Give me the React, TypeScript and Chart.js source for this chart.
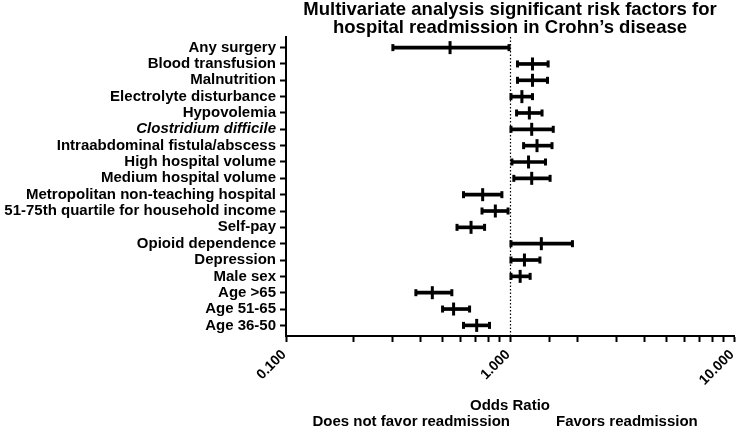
import React, { useEffect, useRef } from "react";
import { Chart, registerables } from "chart.js";

Chart.register(...registerables);

const CATEGORIES = [
  "Any surgery",
  "Blood transfusion",
  "Malnutrition",
  "Electrolyte disturbance",
  "Hypovolemia",
  "Clostridium difficile",
  "Intraabdominal fistula/abscess",
  "High hospital volume",
  "Medium hospital volume",
  "Metropolitan non-teaching hospital",
  "51-75th quartile for household income",
  "Self-pay",
  "Opioid dependence",
  "Depression",
  "Male sex",
  "Age >65",
  "Age 51-65",
  "Age 36-50",
];
const ITALIC_ROWS = ["Clostridium difficile"];

const ODDS_RATIO = [0.54, 1.26, 1.26, 1.13, 1.22, 1.25, 1.32, 1.21, 1.25, 0.755, 0.86, 0.67, 1.38, 1.16, 1.11, 0.45, 0.56, 0.71];
const CI_LOW = [0.30, 1.08, 1.08, 1.01, 1.07, 1.01, 1.15, 1.02, 1.04, 0.62, 0.75, 0.58, 1.01, 1.01, 1.01, 0.38, 0.50, 0.62];
const CI_HIGH = [0.99, 1.48, 1.47, 1.26, 1.39, 1.56, 1.54, 1.44, 1.51, 0.92, 0.98, 0.77, 1.90, 1.36, 1.23, 0.55, 0.66, 0.81];

const X_MIN = 0.1;
const X_MAX = 10;
const REFERENCE_LINE = 1;
const X_TICKS = [0.1, 1, 10];
const X_TICK_LABELS = ["0.100", "1.000", "10.000"];

const TITLE_LINES = [
  "Multivariate analysis significant risk factors for",
  "hospital readmission in Crohn\u2019s disease",
];
const X_TITLE = "Odds Ratio";
const LEFT_NOTE = "Does not favor readmission";
const RIGHT_NOTE = "Favors readmission";

const FONT = "'Liberation Sans', Arial, Helvetica, sans-serif";

const overlayPlugin = {
  id: "overlay",
  beforeDatasetsDraw(chart: any) {
    const { ctx, chartArea } = chart;
    const xs = chart.scales.x;
    const x = Math.round(xs.getPixelForValue(REFERENCE_LINE)) + 0.5;
    ctx.save();
    ctx.strokeStyle = "#000";
    ctx.lineWidth = 1.2;
    ctx.setLineDash([1.5, 2]);
    ctx.beginPath();
    ctx.moveTo(x, chartArea.top);
    ctx.lineTo(x, chartArea.bottom);
    ctx.stroke();
    ctx.restore();
  },
  afterDraw(chart: any) {
    const { ctx, chartArea } = chart;
    const xs = chart.scales.x;
    const cx = (chartArea.left + chartArea.right) / 2;
    ctx.save();
    ctx.fillStyle = "#000";
    ctx.font = `bold 18.5px ${FONT}`;
    ctx.textAlign = "center";
    ctx.textBaseline = "alphabetic";
    ctx.fillText(TITLE_LINES[0], cx, 15);
    ctx.fillText(TITLE_LINES[1], cx, 33);

    // rotated tick labels of the odds-ratio axis
    ctx.font = `bold 14px ${FONT}`;
    ctx.textAlign = "right";
    ctx.textBaseline = "middle";
    X_TICKS.forEach((t, i) => {
      const px = xs.getPixelForValue(t);
      ctx.save();
      ctx.translate(px - 2, chartArea.bottom + 16.5);
      ctx.rotate(-Math.PI / 4);
      ctx.fillText(X_TICK_LABELS[i], 0, 0);
      ctx.restore();
    });

    const x1 = xs.getPixelForValue(REFERENCE_LINE);
    ctx.font = `bold 15px ${FONT}`;
    ctx.textBaseline = "middle";
    ctx.textAlign = "right";
    ctx.fillText(LEFT_NOTE, x1, 422);
    ctx.textAlign = "left";
    ctx.fillText(RIGHT_NOTE, x1 + 46, 422);
    ctx.restore();
  },
};

export default function App() {
  const canvasRef = useRef<HTMLCanvasElement | null>(null);

  useEffect(() => {
    if (!canvasRef.current) return;
    const rows = CATEGORIES.map((_, i) => i);
    const chart = new Chart(canvasRef.current, {
      type: "bar",
      data: {
        datasets: [
          {
            type: "bar",
            indexAxis: "y",
            data: rows.map((i) => ({ y: i, x: [CI_LOW[i], CI_HIGH[i]] })) as any,
            backgroundColor: "#000",
            borderWidth: 0,
            barThickness: 3,
          } as any,
          {
            type: "scatter",
            data: rows.flatMap((i) => [
              { x: CI_LOW[i], y: i },
              { x: CI_HIGH[i], y: i },
            ]),
            pointStyle: "line",
            pointRotation: 90,
            pointRadius: 3.5,
            pointBorderWidth: 3,
            pointBorderColor: "#000",
            pointBackgroundColor: "#000",
            clip: false,
          } as any,
          {
            type: "scatter",
            data: rows.map((i) => ({ x: ODDS_RATIO[i], y: i })),
            pointStyle: "line",
            pointRotation: 90,
            pointRadius: 6.5,
            pointBorderWidth: 3,
            pointBorderColor: "#000",
            pointBackgroundColor: "#000",
            clip: false,
          } as any,
        ],
      },
      options: {
        animation: false,
        responsive: true,
        maintainAspectRatio: false,
        layout: { autoPadding: false, padding: { left: 0, right: 3, top: 37, bottom: 0 } },
        plugins: {
          legend: { display: false },
          tooltip: { enabled: false },
          title: { display: false },
        },
        scales: {
          x: {
            type: "logarithmic",
            min: X_MIN,
            max: X_MAX,
            offset: false,
            border: { display: true, color: "#000", width: 2 },
            grid: {
              display: true,
              offset: false,
              drawOnChartArea: false,
              drawTicks: true,
              tickLength: 6,
              tickWidth: 2,
              tickColor: "#000",
            },
            ticks: {
              display: false,
              autoSkip: false,
              maxRotation: 0,
            },
            title: {
              display: true,
              text: X_TITLE,
              color: "#000",
              font: { family: FONT, size: 15, weight: "bold", lineHeight: 1.2 },
              padding: { top: 0, bottom: 15 },
            },
            afterFit: (scale: any) => {
              scale.height = 94;
              scale.paddingLeft = 0;
              scale.paddingRight = 0;
            },
          },
          y: {
            type: "linear",
            reverse: true,
            offset: false,
            min: -0.65,
            max: CATEGORIES.length - 1 + 0.65,
            border: { display: true, color: "#000", width: 2 },
            grid: {
              display: true,
              offset: false,
              drawOnChartArea: false,
              drawTicks: true,
              tickLength: 6,
              tickWidth: 2,
              tickColor: "#000",
            },
            afterBuildTicks: (scale: any) => {
              scale.ticks = CATEGORIES.map((_, i) => ({ value: i }));
            },
            ticks: {
              autoSkip: false,
              padding: 4,
              color: "#000",
              font: (ctx: any) => ({
                family: FONT,
                size: 15,
                weight: "bold",
                style: ITALIC_ROWS.includes(CATEGORIES[ctx.index]) ? "italic" : "normal",
              }),
              callback: (val: any) => CATEGORIES[Math.round(Number(val))] ?? "",
            },
            afterFit: (scale: any) => {
              scale.width = 286;
              scale.paddingTop = 0;
              scale.paddingBottom = 0;
            },
          },
        },
      } as any,
      plugins: [overlayPlugin],
    });
    return () => chart.destroy();
  }, []);

  return (
    <div style={{ position: "fixed", left: 0, top: 0, width: 737, height: 430 }}>
      <canvas ref={canvasRef} />
    </div>
  );
}
